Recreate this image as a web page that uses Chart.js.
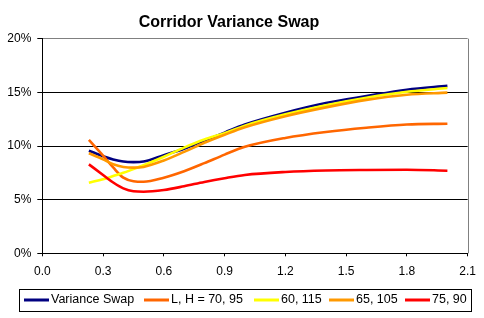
<!DOCTYPE html>
<html>
<head>
<meta charset="utf-8">
<script src="https://cdn.jsdelivr.net/npm/chart.js@4.4.1/dist/chart.umd.min.js"></script>
<style>
  html, body { margin: 0; padding: 0; background: #fff; }
  #wrap { width: 484px; height: 318px; position: relative; }
</style>
</head>
<body>
<div id="wrap"><canvas id="corridor-chart"></canvas></div>
<script>
// maturities (years)
const maturities = [0.23, 0.3, 0.35, 0.4, 0.45, 0.5, 0.6, 0.7, 0.8, 0.9, 1.0, 1.2, 1.4, 1.6, 1.8, 2.0];

// implied strikes, in %
const varianceSwap = [9.56, 9.05, 8.75, 8.55, 8.5, 8.55, 9.15, 9.75, 10.5, 11.25, 12.0, 13.1, 14.0, 14.65, 15.25, 15.6];
const corridor7095 = [10.56, 9.1, 8.0, 7.05, 6.72, 6.67, 7.05, 7.65, 8.4, 9.2, 9.92, 10.75, 11.3, 11.7, 12.0, 12.08];
const corridor60115 = [6.58, 6.9, 7.2, 7.5, 7.85, 8.2, 9.0, 9.85, 10.6, 11.2, 11.9, 12.95, 13.8, 14.5, 15.05, 15.4];
const corridor65105 = [9.32, 8.75, 8.3, 8.05, 7.98, 8.05, 8.65, 9.45, 10.3, 11.05, 11.75, 12.78, 13.6, 14.3, 14.78, 14.97];
const corridor7590 = [8.29, 7.3, 6.6, 6.05, 5.78, 5.74, 5.9, 6.25, 6.65, 7.0, 7.3, 7.58, 7.72, 7.77, 7.79, 7.7];

const seriesLabels = ['Variance Swap', 'L, H = 70, 95', '60, 115', '65, 105', '75, 90'];
const seriesColors = ['#000080', '#FF6600', '#FFFF00', '#FF9900', '#FF0000'];

const xTicks = [0.0, 0.3, 0.6, 0.9, 1.2, 1.5, 1.8, 2.1];
const yTicks = [0, 5, 10, 15, 20];

const chartTitle = 'Corridor Variance Swap';
const FONT = '"Liberation Sans", Arial, sans-serif';

const allSeries = [varianceSwap, corridor7095, corridor60115, corridor65105, corridor7590];

const datasets = allSeries.map((values, i) => ({
    label: seriesLabels[i],
    data: values.map((v, j) => ({ x: maturities[j], y: v })),
    borderColor: seriesColors[i],
    backgroundColor: seriesColors[i],
    borderWidth: 2.6,
    pointRadius: 0,
    cubicInterpolationMode: 'monotone',
    order: allSeries.length - i
}));

// title centred the way the original sheet places it
const titlePlugin = {
    id: 'sheetTitle',
    afterDraw(chart) {
        const ctx = chart.ctx;
        ctx.save();
        ctx.font = 'bold 16px ' + FONT;
        ctx.fillStyle = '#000';
        ctx.textAlign = 'center';
        ctx.textBaseline = 'alphabetic';
        ctx.fillText(chartTitle, 229, 27);
        ctx.restore();
    }
};

// gray plot-area border on the right
const framePlugin = {
    id: 'frame',
    beforeDatasetsDraw(chart) {
        const { ctx, chartArea } = chart;
        ctx.save();
        ctx.strokeStyle = '#808080';
        ctx.lineWidth = 1;
        ctx.beginPath();
        ctx.moveTo(Math.round(chartArea.right) + 0.5, chartArea.top);
        ctx.lineTo(Math.round(chartArea.right) + 0.5, chartArea.bottom);
        ctx.stroke();
        ctx.restore();
    }
};

// boxed legend in one row under the axis
const legendPlugin = {
    id: 'boxLegend',
    afterDraw(chart) {
        const ctx = chart.ctx;
        const starts = [24, 144, 254, 329, 405];
        const y = 300;
        ctx.save();
        ctx.strokeStyle = '#000';
        ctx.lineWidth = 1;
        ctx.strokeRect(19.5, 289.5, 452, 22);
        ctx.font = '12.5px ' + FONT;
        ctx.textBaseline = 'middle';
        ctx.textAlign = 'left';
        chart.data.datasets.forEach((ds, i) => {
            const x = starts[i];
            ctx.strokeStyle = ds.borderColor;
            ctx.lineWidth = 3;
            ctx.beginPath();
            ctx.moveTo(x, y);
            ctx.lineTo(x + 25, y);
            ctx.stroke();
            ctx.fillStyle = '#000';
            ctx.fillText(ds.label, x + 27, y);
        });
        ctx.restore();
    }
};

new Chart(document.getElementById('corridor-chart').getContext('2d'), {
    type: 'line',
    data: { datasets: datasets },
    options: {
        responsive: true,
        maintainAspectRatio: false,
        animation: false,
        layout: {
            padding: { left: 0, right: 15, top: 38.7, bottom: 34.7 }
        },
        plugins: {
            legend: { display: false },
            title: { display: false },
            tooltip: { enabled: false }
        },
        scales: {
            x: {
                type: 'linear',
                min: 0,
                max: 2.1,
                afterFit(scale) { scale.height = 30; },
                afterBuildTicks(scale) { scale.ticks = xTicks.map(v => ({ value: v })); },
                ticks: {
                    color: '#000',
                    font: { family: FONT, size: 12 },
                    padding: 8,
                    maxRotation: 0,
                    autoSkip: false,
                    callback: v => Number(v).toFixed(1)
                },
                grid: {
                    drawOnChartArea: false,
                    drawTicks: true,
                    tickLength: 3,
                    tickColor: '#000'
                },
                border: { display: true, color: '#000', width: 1 }
            },
            y: {
                min: 0,
                max: 20,
                afterFit(scale) { scale.width = 42.3; },
                afterBuildTicks(scale) { scale.ticks = yTicks.map(v => ({ value: v })); },
                ticks: {
                    color: '#000',
                    font: { family: FONT, size: 12 },
                    padding: 6,
                    callback: v => v + '%'
                },
                grid: {
                    color: ctx => (ctx.tick && ctx.tick.value === 20 ? '#808080' : '#000'),
                    tickColor: '#000',
                    tickLength: 5,
                    lineWidth: 1
                },
                border: { display: true, color: '#000', width: 1 }
            }
        }
    },
    plugins: [titlePlugin, framePlugin, legendPlugin]
});
</script>
</body>
</html>
